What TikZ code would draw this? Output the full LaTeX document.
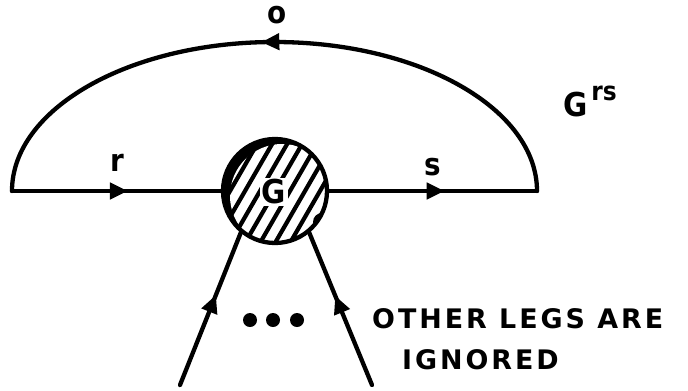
\documentclass[tikz,border=0pt]{standalone}
\usepackage{fontspec}
\setmainfont{DejaVu Sans}
\newfontfamily\lettering[LetterSpace=11]{DejaVu Sans}
\newfontfamily\narrowfont{DejaVu Sans Condensed}
\usetikzlibrary{arrows.meta,decorations.markings}
\tikzset{
  wire/.style={line width=4.3bp, line cap=round, line join=round},
  midarrow/.style={postaction={decorate}, decoration={markings,
     mark=at position #1 with {\arrow{Triangle[length=18bp,width=16bp]}}}},
  lbl/.style={font=\narrowfont\bfseries\fontsize{31}{31}\selectfont, inner sep=0pt},
  capstext/.style={font=\lettering\bfseries\fontsize{27}{27}\selectfont, anchor=base west, inner sep=0pt},
}
\begin{document}
\begin{tikzpicture}[x=1bp,y=-1bp]
\useasboundingbox (0,0) rectangle (688,390);
% blob
\node[circle, minimum size=104bp, inner sep=0pt] (g) at (275,191) {};
\begin{scope}
  \clip (g.center) circle[radius=52bp];
  \fill[black] (g.center) circle[radius=52bp];
  \fill[white] (282,196) circle[radius=52bp];
  \fill[black] (322,222) circle[radius=9bp];
  \foreach \i in {-6,...,6} {
    \draw[line width=4.2bp] ({275+\i*15-45},{191+78}) -- ({275+\i*15+45},{191-78});
  }
\end{scope}
\draw[wire] (g.center) circle[radius=52bp];
\node[font=\narrowfont\bfseries\fontsize{33}{33}\selectfont, fill=white, inner sep=1.5bp] (gl) at (274,192) {G};
% ends of the horizontal line
\coordinate (L) at (12,191);
\coordinate (R) at (537,191);
\draw[wire, midarrow=0.55] (L) -- (g);
\draw[wire, midarrow=0.56] (g) -- (R);
\draw[wire, midarrow=0.52] (R) arc[start angle=0, end angle=180, x radius=262.5bp, y radius=149bp];
% legs
\coordinate (b1) at (180,385);
\coordinate (b2) at (372,385);
\draw[wire, midarrow=0.585] (b1) -- (g.230);
\draw[wire, midarrow=0.58] (b2) -- (g.310);
% dots
\fill (250,320) circle[radius=7bp];
\fill (273,320) circle[radius=7bp];
\fill (297,320) circle[radius=7bp];
% labels
\node[lbl] (lo) at (277,15) {o};
\node[lbl] (lr) at (117,163) {r};
\node[lbl] (ls) at (433,167) {s};
\node[font=\narrowfont\bfseries\fontsize{33}{33}\selectfont, anchor=base west, inner sep=0pt] (grs) at (563,116) {G\hspace{4bp}\raisebox{16bp}{\fontsize{26}{26}\selectfont rs}};
\node[capstext] (t1) at (372,328) {OTHER LEGS ARE};
\node[capstext] (t2) at (402,369) {IGNORED};
\end{tikzpicture}
\end{document}
